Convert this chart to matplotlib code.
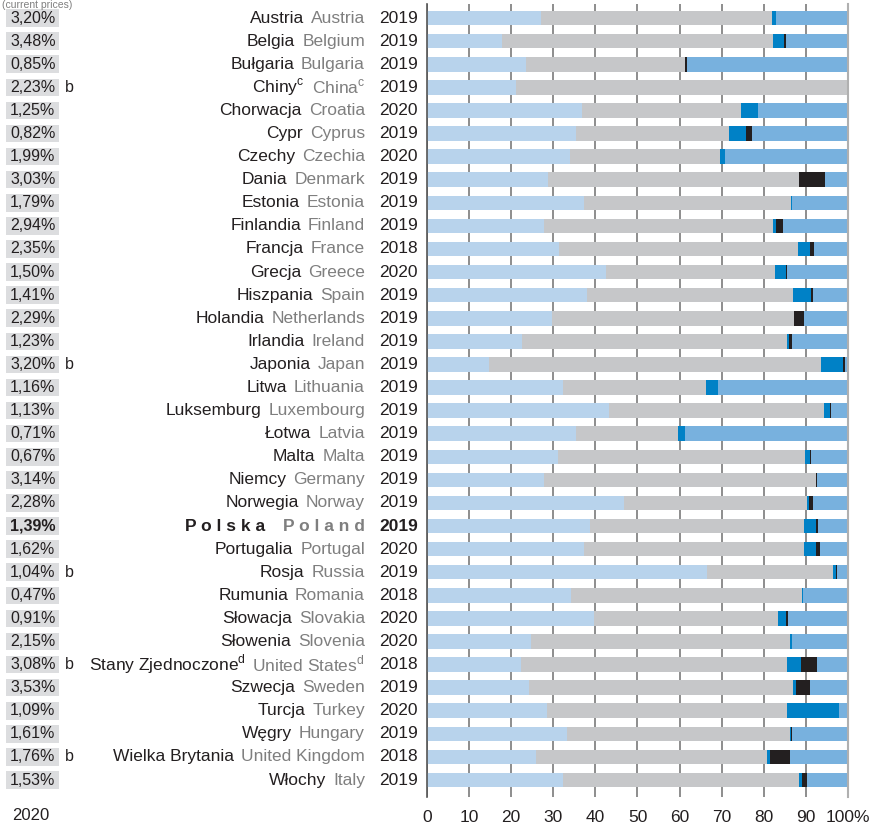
import numpy as np
import matplotlib.pyplot as plt
from matplotlib.patches import Rectangle
from matplotlib.transforms import blended_transform_factory

plt.rcParams['font.family'] = ['Liberation Sans', 'DejaVu Sans']
plt.rcParams['mathtext.fontset'] = 'custom'
plt.rcParams['mathtext.rm'] = 'Liberation Sans'

names_pl = ['Austria', 'Belgia', 'Bułgaria', 'Chiny', 'Chorwacja', 'Cypr', 'Czechy', 'Dania',
            'Estonia', 'Finlandia', 'Francja', 'Grecja', 'Hiszpania', 'Holandia', 'Irlandia',
            'Japonia', 'Litwa', 'Luksemburg', 'Łotwa', 'Malta', 'Niemcy', 'Norwegia', 'Polska',
            'Portugalia', 'Rosja', 'Rumunia', 'Słowacja', 'Słowenia', 'Stany Zjednoczone',
            'Szwecja', 'Turcja', 'Węgry', 'Wielka Brytania', 'Włochy']
names_en = ['Austria', 'Belgium', 'Bulgaria', 'China', 'Croatia', 'Cyprus', 'Czechia', 'Denmark',
            'Estonia', 'Finland', 'France', 'Greece', 'Spain', 'Netherlands', 'Ireland',
            'Japan', 'Lithuania', 'Luxembourg', 'Latvia', 'Malta', 'Germany', 'Norway', 'Poland',
            'Portugal', 'Russia', 'Romania', 'Slovakia', 'Slovenia', 'United States',
            'Sweden', 'Turkey', 'Hungary', 'United Kingdom', 'Italy']
sup = {'Chiny': 'c', 'Stany Zjednoczone': 'd'}
years = [2019, 2019, 2019, 2019, 2020, 2019, 2020, 2019, 2019, 2019, 2018, 2020, 2019, 2019, 2019,
         2019, 2019, 2019, 2019, 2019, 2019, 2019, 2019, 2020, 2019, 2018, 2020, 2020, 2018,
         2019, 2020, 2019, 2018, 2019]
gerd = ['3,20%', '3,48%', '0,85%', '2,23%', '1,25%', '0,82%', '1,99%', '3,03%', '1,79%', '2,94%',
        '2,35%', '1,50%', '1,41%', '2,29%', '1,23%', '3,20%', '1,16%', '1,13%', '0,71%', '0,67%',
        '3,14%', '2,28%', '1,39%', '1,62%', '1,04%', '0,47%', '0,91%', '2,15%', '3,08%', '3,53%',
        '1,09%', '1,61%', '1,76%', '1,53%']
note_b = ['Chiny', 'Japonia', 'Rosja', 'Stany Zjednoczone', 'Wielka Brytania']

# cumulative boundaries (%) of segments: light blue | gray | blue | black | mid blue
edge1 = [27.0, 17.8, 23.6, 21.2, 36.9, 35.4, 34.0, 28.8, 37.3, 27.8, 31.4, 42.4, 37.9, 29.6, 22.6,
         14.8, 32.4, 43.2, 35.4, 31.2, 27.8, 46.9, 38.8, 37.3, 66.4, 34.3, 39.7, 24.7, 22.4,
         24.3, 28.4, 33.3, 25.9, 32.4]
edge2 = [81.9, 82.2, 61.4, 99.8, 74.5, 71.8, 69.6, 88.3, 86.4, 82.2, 88.1, 82.6, 87.0, 87.1, 85.4,
         93.6, 66.3, 94.4, 59.7, 89.8, 92.3, 90.2, 89.5, 89.5, 96.5, 89.1, 83.3, 86.2, 85.5,
         86.9, 85.6, 86.3, 80.8, 88.4]
edge3 = [82.8, 84.8, 61.4, 99.8, 78.7, 75.8, 70.8, 88.3, 86.6, 82.8, 91.0, 85.2, 91.2, 87.1, 86.0,
         98.8, 69.2, 95.8, 61.3, 90.9, 92.3, 90.7, 92.5, 92.4, 97.1, 89.3, 85.2, 86.7, 88.9,
         87.6, 97.9, 86.5, 81.4, 89.1]
edge4 = [83.0, 85.3, 61.7, 99.8, 78.7, 77.2, 70.8, 94.5, 86.7, 84.5, 92.0, 85.5, 91.8, 89.6, 86.7,
         99.4, 69.2, 96.0, 61.3, 91.2, 92.6, 91.8, 92.9, 93.4, 97.5, 89.3, 85.7, 86.7, 92.7,
         91.0, 97.9, 86.8, 86.3, 90.2]

colors = ['#b8d3ec', '#c6c7c9', '#0081c6', '#231f20', '#78b1de']

fig = plt.figure(figsize=(8.78, 8.23), dpi=100)
ax = fig.add_axes([427 / 878, 1 - 797 / 823, (848 - 427) / 878, (797 - 4) / 823])

n = len(names_pl)
y = np.arange(n)
e1 = np.array(edge1); e2 = np.array(edge2); e3 = np.array(edge3); e4 = np.array(edge4)
starts = [np.zeros(n), e1, e2, e3, e4]
widths = [e1, e2 - e1, e3 - e2, e4 - e3, 100 - e4]
for s, w, c in zip(starts, widths, colors):
    ax.barh(y, w, left=s, height=0.63, color=c, zorder=2)

ax.set_xlim(0, 100)
ax.set_ylim(n - 1 + 0.735, -0.61)
ax.set_xticks(range(0, 101, 10))
ax.set_xticklabels([str(v) for v in range(0, 100, 10)] + ['100%'])
ax.tick_params(axis='x', length=0, pad=9, labelsize=12.5, colors='#231f20')
ax.set_yticks([])
ax.xaxis.grid(True, color='#7a7a7a', lw=1.2, zorder=0)
for sp in ['top', 'bottom']:
    ax.spines[sp].set_visible(False)
ax.spines['left'].set_color('#555555')
ax.spines['right'].set_color('#b0b0b0')
ax.spines['left'].set_linewidth(1.2)
ax.spines['right'].set_linewidth(1.5)

tr = blended_transform_factory(fig.transFigure, ax.transData)
for i in range(n):
    pol = names_pl[i] == 'Polska'
    fw = 'bold' if pol else 'normal'
    # percent box
    fig.add_artist(Rectangle((6 / 878, i - 0.38), 53 / 878, 0.76, transform=tr,
                             facecolor='#dcdddf', edgecolor='none'))
    fig.text(10 / 878, i, gerd[i], transform=tr, ha='left', va='center', fontsize=11.5,
             fontweight=fw, color='#231f20')
    if names_pl[i] in note_b:
        fig.text(65 / 878, i, 'b', transform=tr, ha='left', va='center', fontsize=11.5,
                 color='#231f20')
    en = names_en[i]
    pl = names_pl[i]
    if pl in sup:
        en = en + r'$^{\mathrm{' + sup[pl] + '}}$'
        pl = pl + r'$^{\mathrm{' + sup[pl] + '}}$'
    gap = -5
    if pol:
        en = ' '.join('Poland')
        pl = ' '.join('Polska')
        gap = -13
    t_en = fig.text(365 / 878, i, en, transform=tr, ha='right', va='center', fontsize=12.5,
                    fontweight=fw, color='#7f7f7f')
    ax.annotate(pl, xy=(0, 0.5), xycoords=t_en, xytext=(gap, 0), textcoords='offset points',
                ha='right', va='center', fontsize=12.5, fontweight=fw, color='#231f20',
                annotation_clip=False)
    fig.text(379 / 878, i, str(years[i]), transform=tr, ha='left', va='center', fontsize=12.5,
             fontweight=fw, color='#231f20')

fig.text(12 / 878, 1 - 815 / 823, '2020', ha='left', va='center', fontsize=12, color='#231f20')
fig.text(2 / 878, 1, '(current prices)', ha='left', va='top', fontsize=7.5, color='#7f7f7f')

fig.savefig('out.png', dpi=100)
